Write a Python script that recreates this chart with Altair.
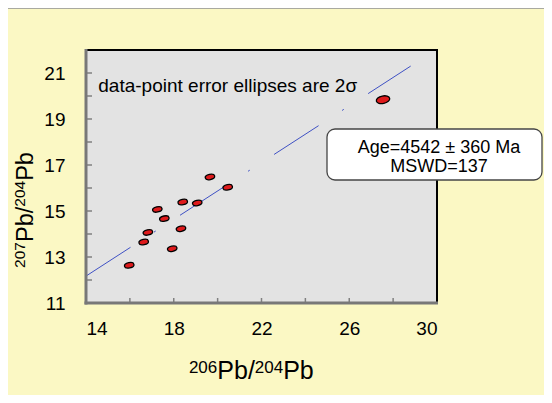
import altair as alt
import pandas as pd

# ---- data ----
x_vals = [15.97, 16.63, 16.82, 17.25, 17.57, 17.93, 18.33, 18.41, 19.07, 19.65, 20.46, 27.54]
y_vals = [12.64, 13.65, 14.07, 15.07, 14.67, 13.36, 14.23, 15.39, 15.35, 16.48, 16.03, 19.84]
fit_x = [14.0, 28.8]
fit_y = [12.17, 21.30]
x_ticks = [16, 18, 20, 22, 24, 26, 28]
y_ticks = [12, 13, 14, 15, 16, 17, 18, 19, 20, 21]
x_labels = [14, 18, 22, 26, 30]
y_labels = [11, 13, 15, 17, 19, 21]
note_text = "data-point error ellipses are 2σ"
age_text = "Age=4542 ± 360 Ma"
mswd_text = "MSWD=137"
x_title_parts = ["206", "Pb/", "204", "Pb"]
y_title_parts = ["207", "Pb/", "204", "Pb"]

W, H = 351, 253
FONT = "Liberation Sans"
BG = "#FBF8C4"

xscale = alt.Scale(domain=[14, 30], nice=False, zero=False)
yscale = alt.Scale(domain=[11, 22], nice=False, zero=False)

xaxis = alt.Axis(values=x_labels, ticks=False, domain=False, grid=False,
                 labelFont=FONT, labelFontSize=19, labelColor="black", labelPadding=16,
                 title=None)
yaxis = alt.Axis(values=y_labels, ticks=False, domain=False, grid=False,
                 labelFont=FONT, labelFontSize=19, labelColor="black", labelPadding=21,
                 title=None)

def X():
    return alt.X("x:Q", scale=xscale, axis=xaxis)

def Y():
    return alt.Y("y:Q", scale=yscale, axis=yaxis)

pts = pd.DataFrame({"x": x_vals, "y": y_vals})
fit = pd.DataFrame({"x": fit_x, "y": fit_y})
xt = pd.DataFrame({"x": x_ticks})
yt = pd.DataFrame({"y": y_ticks})

ellipse = ("M -1 0 C -1 -0.304 -0.552 -0.55 0 -0.55 C 0.552 -0.55 1 -0.304 1 0 "
           "C 1 0.304 0.552 0.55 0 0.55 C -0.552 0.55 -1 0.304 -1 0 Z")

fit_line = alt.Chart(fit).mark_line(color="#3F51C4", strokeWidth=1,
                                    strokeDash=[53, 28, 2, 29]).encode(x=X(), y=Y())

points = alt.Chart(pts).mark_point(shape=ellipse, filled=True, fill="#DE1A1C",
                                   stroke="black", strokeWidth=1.3, opacity=1,
                                   angle=348).encode(
    x=X(), y=Y(),
    size=alt.condition(alt.datum.x > 25, alt.value(185), alt.value(92)))

yticks = alt.Chart(yt).mark_rule(color="#808080", strokeWidth=1.5).encode(
    y=Y(), x=alt.value(0), x2=alt.value(6))
xticks = alt.Chart(xt).mark_rule(color="#808080", strokeWidth=1.5).encode(
    x=X(), y=alt.value(H), y2=alt.value(H - 5))

frame_top = alt.Chart().mark_rule(color="black", strokeWidth=2).encode(
    x=alt.value(0), x2=alt.value(W + 1), y=alt.value(0))
frame_right = alt.Chart().mark_rule(color="black", strokeWidth=2).encode(
    x=alt.value(W), y=alt.value(0), y2=alt.value(H))
frame_left = alt.Chart().mark_rule(color="#787878", strokeWidth=3).encode(
    x=alt.value(0), y=alt.value(-1), y2=alt.value(H + 1.5))
frame_bottom = alt.Chart().mark_rule(color="#787878", strokeWidth=3).encode(
    x=alt.value(-1.5), x2=alt.value(W + 1), y=alt.value(H))

top_line = alt.Chart().mark_rule(color="#A9A9A0", strokeWidth=1).encode(
    x=alt.value(-78), x2=alt.value(W + 115), y=alt.value(-41.5))

note = alt.Chart().mark_text(text=note_text, font=FONT, fontSize=19, color="black",
                             align="left", baseline="alphabetic").encode(
    x=alt.value(12.3), y=alt.value(41.7))

box = alt.Chart().mark_rect(fill="white", stroke="#454545", strokeWidth=1.3,
                            cornerRadius=8).encode(
    x=alt.value(241), x2=alt.value(456), y=alt.value(79), y2=alt.value(130))
age = alt.Chart().mark_text(text=age_text, font=FONT, fontSize=18, color="black",
                            align="center", baseline="alphabetic").encode(
    x=alt.value(353), y=alt.value(102.8))
mswd = alt.Chart().mark_text(text=mswd_text, font=FONT, fontSize=18, color="black",
                             align="center", baseline="alphabetic").encode(
    x=alt.value(353), y=alt.value(121.8))

# axis titles with real superscripts, built from text pieces
def title_piece(txt, size, x, y, angle=0):
    kw = dict(text=txt, font=FONT, fontSize=size, color="black",
              align="left", baseline="alphabetic")
    if angle:
        kw["angle"] = angle
    return alt.Chart().mark_text(**kw).encode(x=alt.value(x), y=alt.value(y))

xt_sizes = [17, 25, 17, 25]
xt_pos = [102.9, 131.3, 168.8, 197.2]
xt_base = [322.5, 329.3, 322.5, 329.3]
x_title_layers = [title_piece(t, s, px, py)
                  for t, s, px, py in zip(x_title_parts, xt_sizes, xt_pos, xt_base)]

yt_sizes = [15.5, 23.5, 15.5, 23.5]
yt_pos = [217.9, 192.0, 156.7, 130.8]
yt_base = [-61.4, -52.7, -61.4, -52.7]
y_title_layers = [title_piece(t, s, bx, py, angle=270)
                  for t, s, bx, py in zip(y_title_parts, yt_sizes, yt_base, yt_pos)]

chart = alt.layer(
    fit_line, points, yticks, xticks, frame_top, frame_right, frame_left, frame_bottom,
    top_line, note, box, age, mswd, *x_title_layers, *y_title_layers
).properties(
    width=W, height=H, background=BG, autosize="none",
    padding={"left": 78, "top": 42, "right": 107, "bottom": 92}
).configure_view(fill="#E3E3E3", stroke=None)

chart.save("out.html", embed_options={"renderer": "svg", "actions": False})
